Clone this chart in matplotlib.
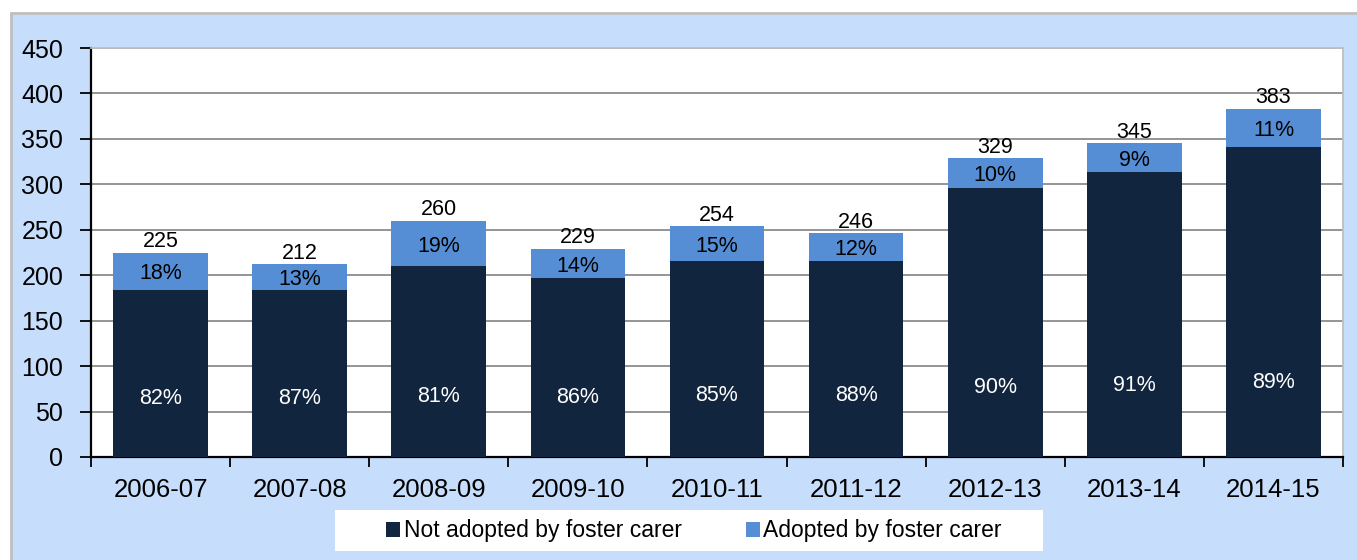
import matplotlib.pyplot as plt
import matplotlib.patches as mpatches
import numpy as np

plt.rcParams["font.family"] = ["Liberation Sans", "DejaVu Sans"]

# Datos
years = ["2006-07", "2007-08", "2008-09", "2009-10", "2010-11",
         "2011-12", "2012-13", "2013-14", "2014-15"]
not_adopted = [184, 184, 210, 197, 216, 216, 296, 314, 341]
adopted = [41, 28, 50, 32, 38, 30, 33, 31, 42]
totals = [225, 212, 260, 229, 254, 246, 329, 345, 383]
pct_not = ["82%", "87%", "81%", "86%", "85%", "88%", "90%", "91%", "89%"]
pct_adopted = ["18%", "13%", "19%", "14%", "15%", "12%", "10%", "9%", "11%"]

c_dark = "#12253F"
c_light = "#558ED5"
c_bg = "#C6DDFB"

W, H = 1357, 560
fig = plt.figure(figsize=(W / 100, H / 100), dpi=100)
fig.patch.set_facecolor("white")

# Marco exterior azul claro
fig.patches.append(mpatches.Rectangle(
    (11 / W, -0.01), 1.0, 1 - 13 / H + 0.01,
    transform=fig.transFigure, facecolor=c_bg,
    edgecolor="#BFBFBF", linewidth=2, zorder=-10))

# Caja blanca de la leyenda
fig.patches.append(mpatches.Rectangle(
    (335 / W, 1 - 551 / H), 708 / W, 41 / H,
    transform=fig.transFigure, facecolor="white",
    edgecolor="none", zorder=-5))

ax = fig.add_axes([91 / W, 1 - 457 / H, 1252 / W, 409 / H])
ax.set_facecolor("white")

x = np.arange(len(years))
w = 0.68
ax.bar(x, not_adopted, w, color=c_dark, zorder=3,
       label="Not adopted by foster carer")
ax.bar(x, adopted, w, bottom=not_adopted, color=c_light, zorder=3,
       label="Adopted by foster carer")

# Etiquetas
for i in range(len(years)):
    ax.text(x[i], totals[i] + 0.5, str(totals[i]), ha="center", va="bottom",
            fontsize=15.5, color="black", zorder=4)
    ax.text(x[i], not_adopted[i] + adopted[i] / 2 - 3, pct_adopted[i],
            ha="center", va="center", fontsize=15.5, color="black", zorder=4)
    ax.text(x[i], 0.11 * not_adopted[i] + 44, pct_not[i],
            ha="center", va="center", fontsize=15.5, color="white", zorder=4)

ax.set_xlim(-0.5, len(years) - 0.5)
ax.set_ylim(0, 450)
ax.set_yticks(range(0, 451, 50))
ax.yaxis.grid(True, color="#8C8C8C", linewidth=1.3, zorder=0)
ax.set_axisbelow(True)

ax.set_xticks(x)
ax.set_xticklabels(years, fontsize=18.5)
ax.set_xticks(np.arange(-0.5, len(years)), minor=True)
ax.tick_params(axis="x", which="major", length=0, pad=15)
ax.tick_params(axis="x", which="minor", length=7, width=1.3, color="black")
ax.tick_params(axis="y", length=8, width=1.3, labelsize=18, pad=12)

for s in ["left", "bottom"]:
    ax.spines[s].set_color("black")
    ax.spines[s].set_linewidth(1.6)
for s in ["top", "right"]:
    ax.spines[s].set_color("#BFBFBF")
    ax.spines[s].set_linewidth(1.3)

fig.legend(loc="center", bbox_to_anchor=(694 / W, 1 - 531 / H), ncol=2,
           fontsize=16.5, frameon=False,
           handlelength=0.6, handleheight=0.6, handletextpad=0.15,
           columnspacing=2.8)

plt.savefig("out.png", dpi=100)
